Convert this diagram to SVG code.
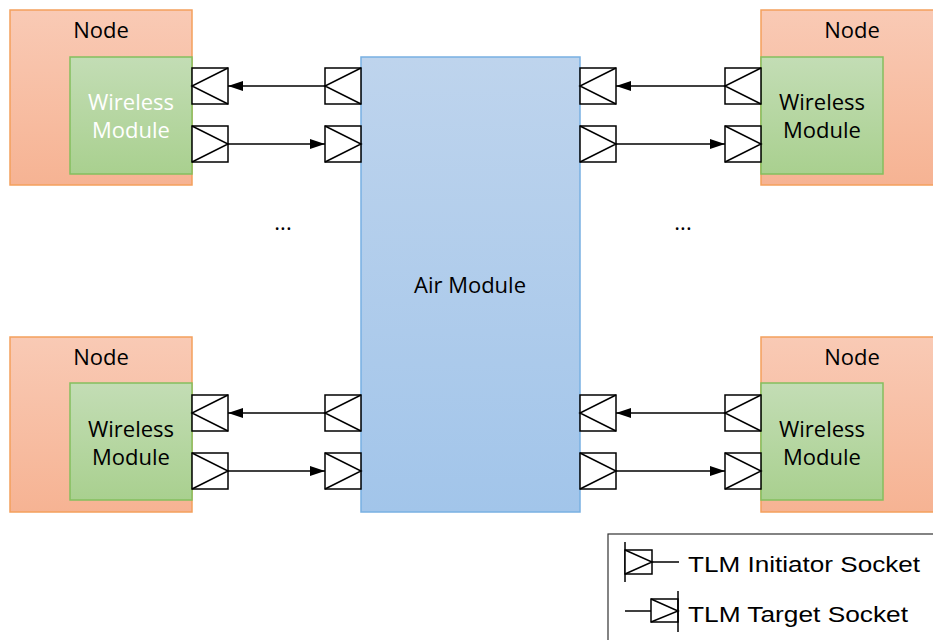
<svg xmlns="http://www.w3.org/2000/svg" width="933" height="640" viewBox="0 0 933 640">
<defs>
<linearGradient id="gNode" x1="0" y1="0" x2="0" y2="1"><stop offset="0" stop-color="#f9cab5"/><stop offset="1" stop-color="#f6b393"/></linearGradient>
<linearGradient id="gWl" x1="0" y1="0" x2="0" y2="1"><stop offset="0" stop-color="#c3ddb5"/><stop offset="1" stop-color="#a9d08f"/></linearGradient>
<linearGradient id="gAir" x1="0" y1="0" x2="0" y2="1"><stop offset="0" stop-color="#bed4ed"/><stop offset="1" stop-color="#a2c5ea"/></linearGradient>
<marker id="ah" markerWidth="15" markerHeight="10" refX="15" refY="5" orient="auto" markerUnits="userSpaceOnUse"><path d="M0,0 L15,5 L0,10 Z" fill="#000"/></marker>
<style>
.node{fill:url(#gNode);stroke:#f4a05c;stroke-width:1.5}
.wl{fill:url(#gWl);stroke:#84bf5e;stroke-width:1.5}
.air{fill:url(#gAir);stroke:#78b0e2;stroke-width:1.5}
.sock{fill:#fff;stroke:#000;stroke-width:1.5}
.tri{fill:none;stroke:#000;stroke-width:1.5}
.lbl{font-family:"Open Sans","Noto Sans",sans-serif;font-size:22px;text-anchor:middle;fill:#000}
.conn{stroke:#000;stroke-width:1.5;fill:none;marker-end:url(#ah)}
.leg{font-family:"Liberation Sans",Arial,sans-serif;font-size:22px;fill:#000}
.ln{stroke:#000;stroke-width:1.5;fill:none}
</style>
</defs>
<rect width="933" height="640" fill="#fff"/>

<g id="node-tl">
<rect class="node" x="10" y="10" width="182" height="175"/>
<text class="lbl" x="101" y="38">Node</text>
<rect class="wl" x="70" y="57" width="122" height="117"/>
<text class="lbl" x="131" y="110" style="fill:#fff">Wireless</text>
<text class="lbl" x="131" y="138" style="fill:#fff">Module</text>
</g>
<g id="node-tr">
<rect class="node" x="761" y="10" width="182" height="175"/>
<text class="lbl" x="852" y="38">Node</text>
<rect class="wl" x="761" y="57" width="122" height="117"/>
<text class="lbl" x="822" y="110">Wireless</text>
<text class="lbl" x="822" y="138">Module</text>
</g>
<g id="node-bl">
<rect class="node" x="10" y="337" width="182" height="175"/>
<text class="lbl" x="101" y="365">Node</text>
<rect class="wl" x="70" y="383" width="122" height="117"/>
<text class="lbl" x="131" y="437">Wireless</text>
<text class="lbl" x="131" y="465">Module</text>
</g>
<g id="node-br">
<rect class="node" x="761" y="337" width="182" height="175"/>
<text class="lbl" x="852" y="365">Node</text>
<rect class="wl" x="761" y="383" width="122" height="117"/>
<text class="lbl" x="822" y="437">Wireless</text>
<text class="lbl" x="822" y="465">Module</text>
</g>
<g id="air-module">
<rect class="air" x="361" y="57" width="219" height="455"/>
<text class="lbl" x="470" y="293">Air Module</text>
</g>

<g id="sockets">
<rect class="sock" x="192" y="68" width="36" height="36"/><path class="tri" d="M228,68 L192,86 L228,104"/>
<rect class="sock" x="192" y="126" width="36" height="36"/><path class="tri" d="M192,126 L228,144 L192,162"/>
<rect class="sock" x="325" y="68" width="36" height="36"/><path class="tri" d="M361,68 L325,86 L361,104"/>
<rect class="sock" x="325" y="126" width="36" height="36"/><path class="tri" d="M325,126 L361,144 L325,162"/>
<rect class="sock" x="580" y="68" width="36" height="36"/><path class="tri" d="M616,68 L580,86 L616,104"/>
<rect class="sock" x="580" y="126" width="36" height="36"/><path class="tri" d="M580,126 L616,144 L580,162"/>
<rect class="sock" x="725" y="68" width="36" height="36"/><path class="tri" d="M761,68 L725,86 L761,104"/>
<rect class="sock" x="725" y="126" width="36" height="36"/><path class="tri" d="M725,126 L761,144 L725,162"/>
<rect class="sock" x="192" y="395" width="36" height="36"/><path class="tri" d="M228,395 L192,413 L228,431"/>
<rect class="sock" x="192" y="453" width="36" height="36"/><path class="tri" d="M192,453 L228,471 L192,489"/>
<rect class="sock" x="325" y="395" width="36" height="36"/><path class="tri" d="M361,395 L325,413 L361,431"/>
<rect class="sock" x="325" y="453" width="36" height="36"/><path class="tri" d="M325,453 L361,471 L325,489"/>
<rect class="sock" x="580" y="395" width="36" height="36"/><path class="tri" d="M616,395 L580,413 L616,431"/>
<rect class="sock" x="580" y="453" width="36" height="36"/><path class="tri" d="M580,453 L616,471 L580,489"/>
<rect class="sock" x="725" y="395" width="36" height="36"/><path class="tri" d="M761,395 L725,413 L761,431"/>
<rect class="sock" x="725" y="453" width="36" height="36"/><path class="tri" d="M725,453 L761,471 L725,489"/>
</g>

<g id="connectors">
<line class="conn" x1="325" y1="86" x2="228" y2="86"/>
<line class="conn" x1="228" y1="144" x2="325" y2="144"/>
<line class="conn" x1="725" y1="86" x2="616" y2="86"/>
<line class="conn" x1="616" y1="144" x2="725" y2="144"/>
<line class="conn" x1="325" y1="413" x2="228" y2="413"/>
<line class="conn" x1="228" y1="471" x2="325" y2="471"/>
<line class="conn" x1="725" y1="413" x2="616" y2="413"/>
<line class="conn" x1="616" y1="471" x2="725" y2="471"/>
</g>

<text class="lbl" x="283" y="230">...</text>
<text class="lbl" x="683" y="230">...</text>

<g id="legend">
<rect x="608" y="534" width="340" height="120" fill="#fff" stroke="#333" stroke-width="1.2"/>
<line class="ln" x1="625" y1="542" x2="625" y2="582"/>
<rect x="625" y="550" width="27" height="24" fill="#fff" stroke="#000" stroke-width="1.5"/>
<path class="tri" d="M625,550 L652,562 L625,574"/>
<line class="ln" x1="652" y1="562" x2="679" y2="562"/>
<text class="leg" x="688" y="572" textLength="232" lengthAdjust="spacingAndGlyphs">TLM Initiator Socket</text>
<line class="ln" x1="625" y1="611" x2="651" y2="611"/>
<rect x="651" y="599" width="27" height="23" fill="#fff" stroke="#000" stroke-width="1.5"/>
<path class="tri" d="M651,599 L678,611 L651,622"/>
<line class="ln" x1="678" y1="591" x2="678" y2="632"/>
<text class="leg" x="688" y="622" textLength="220" lengthAdjust="spacingAndGlyphs">TLM Target Socket</text>
</g>
</svg>
